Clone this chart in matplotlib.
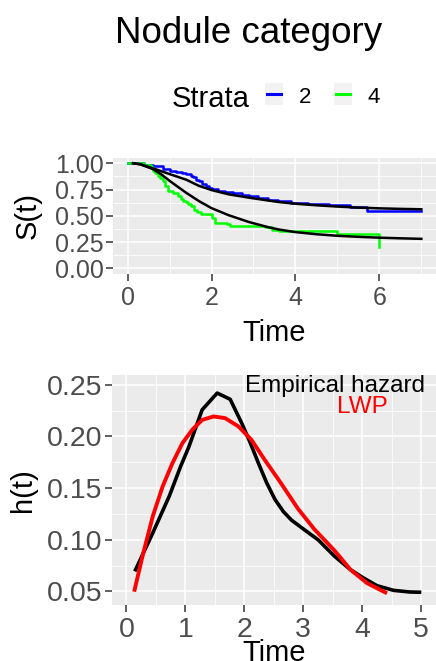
import matplotlib
matplotlib.use("Agg")
import matplotlib.pyplot as plt
from matplotlib.lines import Line2D
from matplotlib.patches import Rectangle

plt.rcParams["font.family"] = ["Liberation Sans", "DejaVu Sans"]

# Kaplan-Meier steps per stratum
km2_t = [0, 0.17, 0.4, 0.6, 0.84, 1.0, 1.15, 1.3, 1.39, 1.5, 1.55, 1.62, 1.7, 1.78, 1.86,
         1.95, 2.02, 2.15, 2.33, 2.5, 2.72, 2.9, 3.11, 3.35, 3.58, 3.9, 4.3, 4.8, 5.3, 5.71, 7.0]
km2_s = [1.0, 1.0, 0.985, 0.97, 0.945, 0.93, 0.92, 0.905, 0.897, 0.88, 0.865, 0.845, 0.827,
         0.80, 0.78, 0.765, 0.753, 0.74, 0.728, 0.715, 0.70, 0.687, 0.673, 0.655, 0.64, 0.625,
         0.61, 0.60, 0.58, 0.55, 0.55]
km4_t = [0, 0.4, 0.55, 0.6, 0.66, 0.72, 0.78, 0.84, 0.88, 0.96, 1.07, 1.19, 1.27, 1.33, 1.39,
         1.45, 1.5, 1.58, 1.66, 1.74, 1.9, 2.02, 2.09, 2.37, 2.45, 3.27, 3.43, 3.6, 5.0, 5.99, 6.0]
km4_s = [1.0, 0.985, 0.96, 0.93, 0.905, 0.88, 0.855, 0.83, 0.785, 0.737, 0.72, 0.69, 0.657,
         0.645, 0.63, 0.61, 0.593, 0.56, 0.54, 0.522, 0.513, 0.48, 0.433, 0.426, 0.40, 0.394,
         0.368, 0.352, 0.33, 0.208, 0.208]

# fitted survival curves
fit2_t = [0.13, 0.3, 0.6, 1.0, 1.4, 1.7, 2.0, 2.4, 2.9, 3.6, 4.0, 4.5, 5.0, 5.5, 6.0, 6.5, 7.0]
fit2_s = [1.0, 0.99, 0.952, 0.897, 0.843, 0.785, 0.745, 0.705, 0.672, 0.631, 0.615, 0.60,
          0.588, 0.578, 0.571, 0.566, 0.562]
fit4_t = [0.13, 0.3, 0.6, 0.8, 1.0, 1.2, 1.4, 1.7, 2.0, 2.4, 2.9, 3.35, 3.6, 4.0, 4.5, 5.0,
          5.5, 6.0, 6.5, 7.0]
fit4_s = [1.0, 0.99, 0.945, 0.895, 0.833, 0.775, 0.718, 0.64, 0.573, 0.507, 0.44, 0.392,
          0.37, 0.345, 0.325, 0.31, 0.30, 0.292, 0.286, 0.281]

# hazard panel
emp_t = [0.156, 0.447, 0.726, 0.92, 1.06, 1.285, 1.54, 1.76, 1.955, 2.10, 2.24, 2.38, 2.52,
         2.66, 2.8, 3.02, 3.25, 3.53, 3.80, 4.02, 4.25, 4.53, 4.81, 4.97]
emp_h = [0.071, 0.1065, 0.142, 0.171, 0.190, 0.2258, 0.242, 0.236, 0.213, 0.194, 0.174,
         0.155, 0.139, 0.1274, 0.119, 0.1096, 0.100, 0.084, 0.071, 0.063, 0.0555, 0.051,
         0.0494, 0.0492]
lwp_t = [0.14, 0.28, 0.447, 0.615, 0.78, 0.95, 1.117, 1.285, 1.48, 1.676, 1.9, 2.12, 2.35,
         2.57, 2.63, 2.91, 3.19, 3.53, 3.80, 4.08, 4.39]
lwp_h = [0.0516, 0.0855, 0.1226, 0.1516, 0.174, 0.1935, 0.2065, 0.216, 0.2194, 0.2177,
         0.2097, 0.1968, 0.177, 0.159, 0.154, 0.130, 0.110, 0.0895, 0.071, 0.058, 0.049]

BG = "#EBEBEB"
TICK_COL = "#4D4D4D"


def style(ax, fs):
    ax.set_facecolor(BG)
    for s in ax.spines.values():
        s.set_visible(False)
    ax.grid(which="major", color="white", lw=1.1)
    ax.grid(which="minor", color="white", lw=0.55)
    ax.set_axisbelow(True)
    ax.tick_params(which="major", length=5, width=1.1, color="#333333",
                   labelcolor=TICK_COL, labelsize=fs)
    ax.tick_params(axis="y", pad=1.5)
    ax.tick_params(axis="x", pad=4)
    ax.tick_params(which="minor", length=0)


fig = plt.figure(figsize=(4.36, 6.61), dpi=100)

fig.text(0.569, 0.95, "Nodule category", fontsize=26.5, ha="center", va="center")

# legend (drawn by hand, ggplot style)
fig.text(0.394, 0.838, "Strata", fontsize=21, ha="left", va="baseline")
for x0, col, lab in [(0.608, "blue", "2"), (0.766, "#00FF00", "4")]:
    fig.patches.append(Rectangle((x0, 0.841), 0.041, 0.034, transform=fig.transFigure,
                                 facecolor="#F2F2F2", edgecolor="none"))
    fig.lines.append(Line2D([x0 + 0.004, x0 + 0.037], [0.858, 0.858],
                            transform=fig.transFigure, color=col, lw=2.2))
    fig.text(x0 + 0.078, 0.844, lab, fontsize=16, ha="left", va="baseline")

ax1 = fig.add_axes([0.259, 0.586, 0.741, 0.175])
style(ax1, 18)
ax1.step(km2_t, km2_s, where="post", color="blue", lw=1.8)
ax1.step(km4_t, km4_s, where="post", color="#00FF00", lw=1.8)
ax1.plot(fit2_t, fit2_s, color="black", lw=1.8)
ax1.plot(fit4_t, fit4_s, color="black", lw=1.8)
ax1.set_xlim(-0.35, 7.35)
ax1.set_ylim(-0.05, 1.05)
ax1.set_xticks([0, 2, 4, 6])
ax1.set_xticks([1, 3, 5, 7], minor=True)
ax1.set_yticks([0, 0.25, 0.5, 0.75, 1.0])
ax1.set_yticks([0.125, 0.375, 0.625, 0.875], minor=True)
ax1.set_yticklabels(["0.00", "0.25", "0.50", "0.75", "1.00"])
ax1.set_xlabel("Time", fontsize=21, va="baseline")
ax1.xaxis.set_label_coords(0.5, -0.578)
ax1.set_ylabel("S(t)", fontsize=21, va="center")
ax1.yaxis.set_label_coords(-0.263, 0.5)

ax2 = fig.add_axes([0.256, 0.085, 0.744, 0.348])
style(ax2, 20.5)
ax2.plot(emp_t, emp_h, color="black", lw=2.6, solid_joinstyle="round")
ax2.plot(lwp_t, lwp_h, color="red", lw=2.8, solid_joinstyle="round")
ax2.set_xlim(-0.25, 5.25)
ax2.set_ylim(0.037, 0.2597)
ax2.set_xticks([0, 1, 2, 3, 4, 5])
ax2.set_xticks([0.5, 1.5, 2.5, 3.5, 4.5], minor=True)
ax2.set_yticks([0.05, 0.10, 0.15, 0.20, 0.25])
ax2.set_yticks([0.075, 0.125, 0.175, 0.225], minor=True)
ax2.set_yticklabels(["0.05", "0.10", "0.15", "0.20", "0.25"])
ax2.text(5.06, 0.2486, "Empirical hazard", fontsize=17.5, ha="right", va="center", color="black")
ax2.text(4.0, 0.2285, "LWP", fontsize=17.5, ha="center", va="center", color="red")
ax2.set_xlabel("Time", fontsize=21, va="baseline")
ax2.xaxis.set_label_coords(0.5, -0.245)
ax2.set_ylabel("h(t)", fontsize=21, va="center")
ax2.yaxis.set_label_coords(-0.2735, 0.5)

fig.savefig("out.png", dpi=100)
